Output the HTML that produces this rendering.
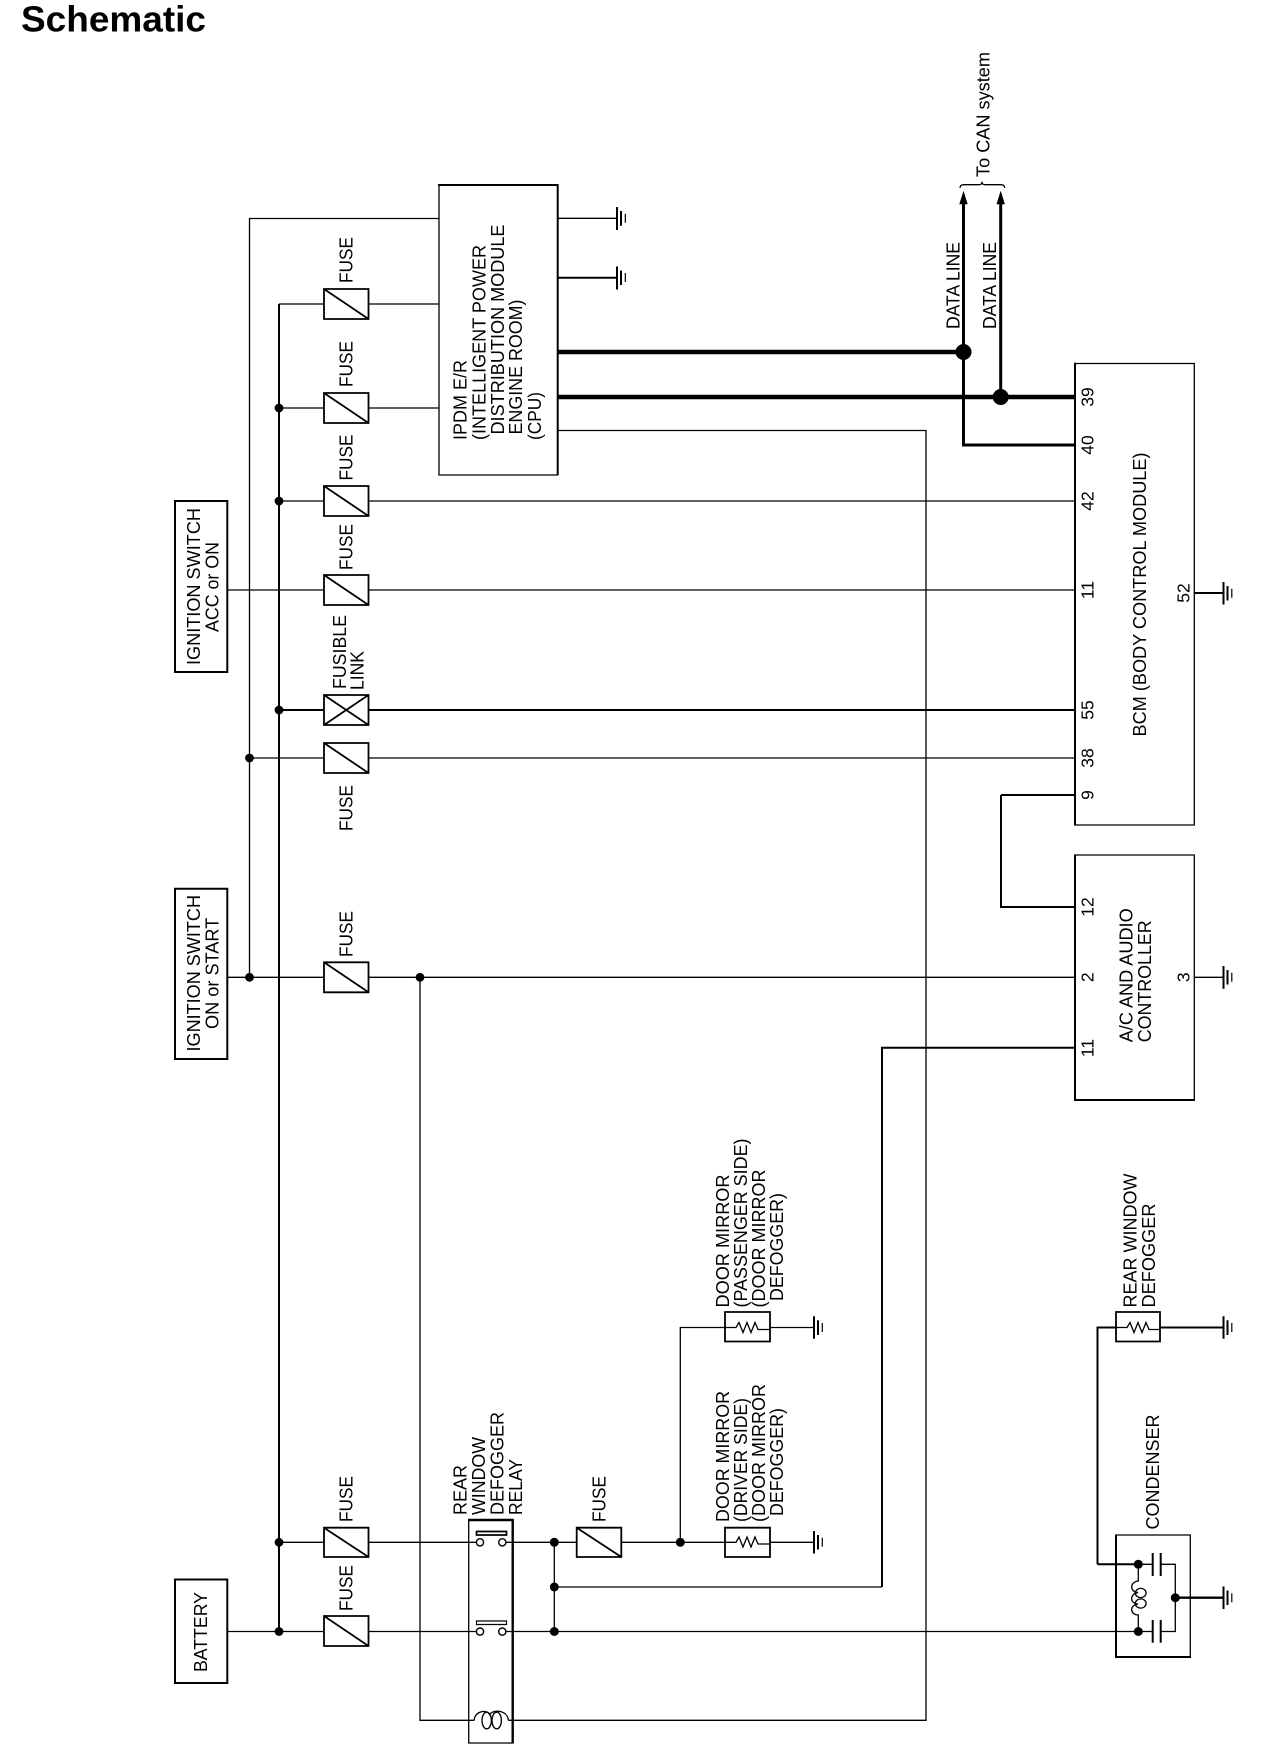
<!DOCTYPE html>
<html><head><meta charset="utf-8"><title>Schematic</title>
<style>html,body{margin:0;padding:0;background:#fff}svg{display:block}
text{font-family:"Liberation Sans",Arial,sans-serif;font-size:18.5px;fill:#000}
.t{fill:none;stroke:#000;stroke-width:1.3}.m{fill:none;stroke:#000;stroke-width:2}.k{fill:none;stroke:#000;stroke-width:3}.kk{fill:none;stroke:#000;stroke-width:4.5}
.g1{fill:none;stroke:#000;stroke-width:1.2}
.p{text-anchor:middle;font-size:17.5px}
</style></head><body>
<svg xmlns="http://www.w3.org/2000/svg" width="1264" height="1764" viewBox="0 0 1264 1764">
<rect width="1264" height="1764" fill="#fff"/>
<text x="21" y="31.5" style="font-size:36.5px;font-weight:bold" textLength="185" lengthAdjust="spacingAndGlyphs">Schematic</text>

<!-- thin wires -->
<path class="t" d="M249.5 977.3V218.5H439M279 304H324M368 304H439M279 408H324M368 408H439M279 501H324M368 501H1075M227 590H324M368 590H1075M249.5 758H324M368 758H1075M227 977.3H324M368 977.3H1075M420 977.3V1720.3H474.3M508.3 1720.3H926V430.5H558M279 1542.3H324M368 1542.3H476M506 1542.3H577M621 1542.3H725M770 1542.3H814M227 1631.5H324M368 1631.5H476M506 1631.5H1138M554.3 1542.3V1631.5M554.3 1587H882M680.3 1542.3V1327.5H725M770 1327.5H814M558 218.3H617M1194 977.3H1223.5"/>
<path class="m" d="M558 277.7H617M279 710H324M368 710H1075M1001 795V907H1075M1001 795H1075M1097.5 1564.3V1327.5H1116M1160 1327.5H1223.5M1097.5 1564.3H1138M279 304V1631.5M882 1587V1047.7H1075"/>
<path class="k" d="M963.5 204V445H1075M1000.7 204V397"/>
<path class="kk" d="M558 352H964M558 397H1075"/>

<!-- boxes -->
<path class="t" d="M439 185V475H558"/>
<path class="m" d="M438 185H557.7V475"/>
<path class="m" d="M175 501H227.3V672H175ZM175 888.7H227.3V1059H175ZM175 1579.5H227.3V1683H175Z"/>
<path class="t" d="M1075 363.5H1194.3V825H1075"/>
<path class="m" d="M1075 362.8V825.5"/>
<path class="t" d="M1075 855H1194.3V1100"/>
<path class="m" d="M1075 854.5V1100H1195"/>
<path class="t" d="M468.7 1520V1743H512.7"/>
<path class="m" style="stroke-width:2.4" d="M468 1520H512.7V1743.5"/>
<path class="t" d="M1116 1535H1190.3V1657"/>
<path class="m" d="M1116 1534.5V1657H1191"/>

<!-- fuses -->
<g fill="#fff" stroke="#000" stroke-width="1.8">
<path d="M324 289H368.5V319H324ZM324 289L368.5 319"/>
<path d="M324 393H368.5V423H324ZM324 393L368.5 423"/>
<path d="M324 486H368.5V516H324ZM324 486L368.5 516"/>
<path d="M324 575H368.5V605H324ZM324 575L368.5 605"/>
<path d="M324 695H368.5V725H324ZM324 695L368.5 725M368.5 695L324 725"/>
<path d="M324 743H368.5V773H324ZM324 743L368.5 773"/>
<path d="M324 962.3H368.5V992.3H324ZM324 962.3L368.5 992.3"/>
<path d="M324 1527.7H368.5V1557H324ZM324 1527.7L368.5 1557"/>
<path d="M324 1616H368.5V1646H324ZM324 1616L368.5 1646"/>
<path d="M576.7 1527.7H621.3V1557H576.7ZM576.7 1527.7L621.3 1557"/>
<path d="M725 1527.7H770V1557H725Z"/>
<path d="M725 1312H770V1341.5H725Z"/>
<path d="M1116 1312H1160V1341.5H1116Z"/>
</g>
<!-- resistors -->
<path class="t" d="M725 1542.3H736L739 1537L743 1547L747 1537L751 1547L755 1537L758 1544H770M725 1327.5H736L739 1322.5L743 1332.5L747 1322.5L751 1332.5L755 1322.5L758 1329.5H770M1116 1327.5H1127L1130 1322.5L1134 1332.5L1138 1322.5L1142 1332.5L1146 1322.5L1149 1329.5H1160"/>

<!-- grounds -->
<path class="m" d="M617 207V230M621 211V225.7M814 1531V1553.5M818 1535V1549.5M814 1316.3V1338.8M818 1320.3V1335M1223.5 1316.3V1338.8M1227.5 1320.3V1335M1223.5 1586.5V1609M1227.5 1590.5V1605M1223.5 966V988.7M1227.5 970V984.5M1223.5 582V604.5M1227.5 586V600.5"/>
<path class="m" d="M617 266.5V289.5M621 270.5V285"/>
<path class="g1" d="M625.3 213.7V222.7M625.3 273V282M822.3 1537.7V1546.7M822.3 1323V1332M1231.8 1323V1332M1231.8 1593.2V1602.2M1231.8 972.8V981.8M1231.8 588.8V597.8"/>
<path class="m" d="M1194 593H1223.5"/>

<!-- relay -->
<g fill="#fff" stroke="#000" stroke-width="1.4">
<circle cx="480" cy="1542.3" r="3.6"/><circle cx="502.3" cy="1542.3" r="3.6"/>
<circle cx="480" cy="1631.6" r="3.6"/><circle cx="502.3" cy="1631.6" r="3.6"/>
</g>
<path d="M476.5 1531.5H506.5V1535H476.5Z" fill="#fff" stroke="#000" stroke-width="1.7"/>
<path d="M476.5 1621H506.5V1624.5H476.5Z" fill="#fff" stroke="#000" stroke-width="1.2"/>
<path class="t" d="M474.3 1720.3C474.3 1711 487 1709 489.5 1714.5C494 1709 507.5 1710 508.3 1720.3"/>
<ellipse cx="486.7" cy="1720.5" rx="4.7" ry="8.3" class="t"/><ellipse cx="496.7" cy="1720.5" rx="4.7" ry="8.3" class="t"/>

<!-- condenser -->
<path class="t" d="M1138.3 1564.3V1581C1129.5 1582 1129.5 1592 1138 1592.5C1129.5 1594 1129.5 1603.5 1138 1604C1129.5 1605 1129.5 1614.5 1138.3 1615V1631.5"/>
<ellipse cx="1140.7" cy="1593" rx="5.4" ry="4.6" class="t"/><ellipse cx="1140.7" cy="1603.5" rx="5.4" ry="4.6" class="t"/>
<path class="t" d="M1138 1564.3H1152.7M1160.7 1564.3H1175.3V1631.5H1160.7M1152.7 1631.5H1138"/>
<path class="m" d="M1152.7 1553V1576M1160.7 1553V1576M1152.7 1620V1642.7M1160.7 1620V1642.7"/>
<path class="m" style="stroke-width:2.4" d="M1175 1597.7H1223.5"/>

<!-- dots -->
<g fill="#000">
<circle cx="279" cy="408" r="4.4"/><circle cx="279" cy="501" r="4.4"/><circle cx="279" cy="710" r="4.4"/><circle cx="279" cy="1542.3" r="4.4"/><circle cx="279" cy="1631.5" r="4.4"/>
<circle cx="249.5" cy="758" r="4.4"/><circle cx="249.5" cy="977.3" r="4.4"/><circle cx="420" cy="977.3" r="4.4"/>
<circle cx="554.3" cy="1542.3" r="4.5"/><circle cx="554.3" cy="1587" r="4.5"/><circle cx="554.3" cy="1631.5" r="4.5"/>
<circle cx="680.3" cy="1542.3" r="4.5"/>
<circle cx="1138.3" cy="1564.3" r="4.5"/><circle cx="1138.3" cy="1631.5" r="4.5"/><circle cx="1175.3" cy="1597.7" r="4.5"/>
<circle cx="963.5" cy="352" r="8"/><circle cx="1000.7" cy="397" r="8"/>
<path d="M963.5 190.7L967.7 204.3H959.3ZM1000.7 190.7L1004.9 204.3H996.5Z"/>
</g>
<path class="t" d="M960 188Q960 184.7 964 184.7H979Q982 184.7 982 181.7Q982 184.7 985 184.7H1001Q1004.7 184.7 1004.7 188"/>

<!-- labels -->
<text transform="translate(989.5,177) rotate(-90)" textLength="125" lengthAdjust="spacingAndGlyphs">To CAN system</text>
<text transform="translate(959.3,329) rotate(-90)" textLength="87" lengthAdjust="spacingAndGlyphs">DATA LINE</text>
<text transform="translate(996,329) rotate(-90)" textLength="87" lengthAdjust="spacingAndGlyphs">DATA LINE</text>

<text transform="translate(466.5,440) rotate(-90)" textLength="80" lengthAdjust="spacingAndGlyphs">IPDM E/R</text>
<text transform="translate(485.5,440) rotate(-90)" textLength="195" lengthAdjust="spacingAndGlyphs">(INTELLIGENT POWER</text>
<text transform="translate(504,434.5) rotate(-90)" textLength="210" lengthAdjust="spacingAndGlyphs">DISTRIBUTION MODULE</text>
<text transform="translate(522,434.5) rotate(-90)" textLength="135" lengthAdjust="spacingAndGlyphs">ENGINE ROOM)</text>
<text transform="translate(541,440) rotate(-90)" textLength="48" lengthAdjust="spacingAndGlyphs">(CPU)</text>

<text transform="translate(352.3,283) rotate(-90)" textLength="46" lengthAdjust="spacingAndGlyphs">FUSE</text>
<text transform="translate(352.3,387) rotate(-90)" textLength="46" lengthAdjust="spacingAndGlyphs">FUSE</text>
<text transform="translate(352.3,480.5) rotate(-90)" textLength="46" lengthAdjust="spacingAndGlyphs">FUSE</text>
<text transform="translate(352.3,570) rotate(-90)" textLength="46" lengthAdjust="spacingAndGlyphs">FUSE</text>
<text transform="translate(352.3,831) rotate(-90)" textLength="46" lengthAdjust="spacingAndGlyphs">FUSE</text>
<text transform="translate(352.3,957) rotate(-90)" textLength="46" lengthAdjust="spacingAndGlyphs">FUSE</text>
<text transform="translate(352.3,1522) rotate(-90)" textLength="46" lengthAdjust="spacingAndGlyphs">FUSE</text>
<text transform="translate(352.3,1611) rotate(-90)" textLength="46" lengthAdjust="spacingAndGlyphs">FUSE</text>
<text transform="translate(605.5,1522) rotate(-90)" textLength="46" lengthAdjust="spacingAndGlyphs">FUSE</text>

<text transform="translate(346,689) rotate(-90)" textLength="74" lengthAdjust="spacingAndGlyphs">FUSIBLE</text>
<text transform="translate(363.5,690) rotate(-90)" textLength="39" lengthAdjust="spacingAndGlyphs">LINK</text>

<text transform="translate(200,665) rotate(-90)" textLength="157" lengthAdjust="spacingAndGlyphs">IGNITION SWITCH</text>
<text transform="translate(218.3,632) rotate(-90)" textLength="90" lengthAdjust="spacingAndGlyphs">ACC or ON</text>
<text transform="translate(200,1051.5) rotate(-90)" textLength="156.5" lengthAdjust="spacingAndGlyphs">IGNITION SWITCH</text>
<text transform="translate(218.3,1029) rotate(-90)" textLength="111.3" lengthAdjust="spacingAndGlyphs">ON or START</text>
<text transform="translate(207,1672) rotate(-90)" textLength="80" lengthAdjust="spacingAndGlyphs">BATTERY</text>

<text transform="translate(466.5,1515) rotate(-90)" textLength="50" lengthAdjust="spacingAndGlyphs">REAR</text>
<text transform="translate(485,1515) rotate(-90)" textLength="78" lengthAdjust="spacingAndGlyphs">WINDOW</text>
<text transform="translate(503.5,1515) rotate(-90)" textLength="103" lengthAdjust="spacingAndGlyphs">DEFOGGER</text>
<text transform="translate(522,1515) rotate(-90)" textLength="56" lengthAdjust="spacingAndGlyphs">RELAY</text>

<text transform="translate(1146,736.5) rotate(-90)" textLength="284" lengthAdjust="spacingAndGlyphs">BCM (BODY CONTROL MODULE)</text>
<text transform="translate(1132.7,1042.3) rotate(-90)" textLength="134" lengthAdjust="spacingAndGlyphs">A/C AND AUDIO</text>
<text transform="translate(1151,1042.3) rotate(-90)" textLength="122" lengthAdjust="spacingAndGlyphs">CONTROLLER</text>

<text class="p" transform="translate(1093.3,397) rotate(-90)">39</text>
<text class="p" transform="translate(1093.3,445) rotate(-90)">40</text>
<text class="p" transform="translate(1093.3,501) rotate(-90)">42</text>
<text class="p" transform="translate(1093.3,590) rotate(-90)">11</text>
<text class="p" transform="translate(1093.3,710) rotate(-90)">55</text>
<text class="p" transform="translate(1093.3,758) rotate(-90)">38</text>
<text class="p" transform="translate(1093.3,795) rotate(-90)">9</text>
<text class="p" transform="translate(1093.3,907) rotate(-90)">12</text>
<text class="p" transform="translate(1093.3,977.3) rotate(-90)">2</text>
<text class="p" transform="translate(1093.3,1048) rotate(-90)">11</text>
<text class="p" transform="translate(1189.3,593) rotate(-90)">52</text>
<text class="p" transform="translate(1189.3,977.3) rotate(-90)">3</text>

<text transform="translate(729,1307.5) rotate(-90)" textLength="133" lengthAdjust="spacingAndGlyphs">DOOR MIRROR</text>
<text transform="translate(747,1307.5) rotate(-90)" textLength="169" lengthAdjust="spacingAndGlyphs">(PASSENGER SIDE)</text>
<text transform="translate(765,1307.5) rotate(-90)" textLength="138" lengthAdjust="spacingAndGlyphs">(DOOR MIRROR</text>
<text transform="translate(783,1301) rotate(-90)" textLength="108" lengthAdjust="spacingAndGlyphs">DEFOGGER)</text>
<text transform="translate(729,1522) rotate(-90)" textLength="131" lengthAdjust="spacingAndGlyphs">DOOR MIRROR</text>
<text transform="translate(747,1522) rotate(-90)" textLength="124" lengthAdjust="spacingAndGlyphs">(DRIVER SIDE)</text>
<text transform="translate(765,1522) rotate(-90)" textLength="138" lengthAdjust="spacingAndGlyphs">(DOOR MIRROR</text>
<text transform="translate(783,1516) rotate(-90)" textLength="108" lengthAdjust="spacingAndGlyphs">DEFOGGER)</text>

<text transform="translate(1136.5,1307.5) rotate(-90)" textLength="134" lengthAdjust="spacingAndGlyphs">REAR WINDOW</text>
<text transform="translate(1155,1307.5) rotate(-90)" textLength="104" lengthAdjust="spacingAndGlyphs">DEFOGGER</text>
<text transform="translate(1159,1529.5) rotate(-90)" textLength="115" lengthAdjust="spacingAndGlyphs">CONDENSER</text>
</svg>
</body></html>
